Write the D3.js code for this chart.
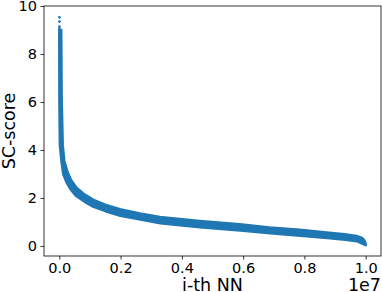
<!DOCTYPE html>
<html>
<head>
<meta charset="utf-8">
<script src="https://cdn.jsdelivr.net/npm/d3@7"></script>
<style>
  body { margin: 0; background: #fff; }
  svg { display: block; font-family: "DejaVu Sans", sans-serif; }
</style>
</head>
<body>
<svg id="chart" width="382" height="292"></svg>
<script>
// outer (upper/right) edge of the point cloud
var upperX = [0.006e7, 0.0075e7, 0.011e7, 0.016e7, 0.026e7, 0.038e7, 0.056e7, 0.079e7, 0.11e7, 0.149e7,
  0.198e7, 0.263e7, 0.328e7, 0.458e7, 0.588e7, 0.686e7, 0.784e7, 0.872e7, 0.931e7, 0.970e7, 0.988e7, 0.996e7, 1.0e7];
var upperY = [9.0, 6.1, 4.2, 3.55, 3.1, 2.75, 2.42, 2.17, 1.93, 1.72,
  1.53, 1.35, 1.2, 1.04, 0.9, 0.77, 0.67, 0.56, 0.48, 0.41, 0.33, 0.22, 0.08];

// inner (lower/left) edge
var lowerX = [0, 0.0005e7, 0.002e7, 0.0075e7, 0.013e7, 0.023e7, 0.036e7, 0.054e7, 0.083e7, 0.112e7,
  0.151e7, 0.199e7, 0.265e7, 0.33e7, 0.459e7, 0.591e7, 0.689e7, 0.787e7, 0.875e7, 0.934e7, 0.971e7, 0.987e7, 0.996e7, 1.0e7];
var lowerY = [9.0, 6.1, 4.2, 3.5, 3.0, 2.67, 2.38, 2.09, 1.84, 1.63,
  1.45, 1.26, 1.1, 0.95, 0.78, 0.64, 0.53, 0.43, 0.33, 0.26, 0.2, 0.11, 0.06, 0.03];

// the few loose points at the top of the spike
var topDotsX = [0.0003e7, 0.0003e7, 0.0003e7, 0.0004e7];
var topDotsY = [9.53, 9.35, 9.14, 9.05];

var xTicks = [0, 0.2e7, 0.4e7, 0.6e7, 0.8e7, 1.0e7];
var yTicks = [0, 2, 4, 6, 8, 10];

var color = '#1f77b4';
var margin = { top: 6, right: 1, bottom: 36, left: 44 };
var width = 382 - margin.left - margin.right;
var height = 292 - margin.top - margin.bottom;

var svg = d3.select('#chart');
var g = svg.append('g')
  .attr('transform', 'translate(' + margin.left + ',' + margin.top + ')');

var x = d3.scaleLinear().domain([-0.05e7, 1.05e7]).range([0, width]);
var y = d3.scaleLinear().domain([-0.42, 10]).range([height, 0]);

// cloud outline: outer edge forward, inner edge back
var pts = upperX.map(function (d, i) { return [d, upperY[i]]; });
for (var i = lowerX.length - 1; i >= 0; i--) pts.push([lowerX[i], lowerY[i]]);

var line = d3.line()
  .x(function (d) { return x(d[0]); })
  .y(function (d) { return y(d[1]); });

g.append('path')
  .datum(pts)
  .attr('d', function (d) { return line(d) + 'Z'; })
  .attr('fill', color)
  .attr('stroke', color)
  .attr('stroke-width', 2.6)
  .attr('stroke-linejoin', 'round');

g.selectAll('.dot')
  .data(topDotsY)
  .enter().append('circle')
  .attr('class', 'dot')
  .attr('cx', function (d, i) { return x(topDotsX[i]); })
  .attr('cy', function (d) { return y(d); })
  .attr('r', 1.4)
  .attr('fill', color);

// axes
var xAxis = g.append('g')
  .attr('transform', 'translate(0,' + height + ')')
  .call(d3.axisBottom(x).tickValues(xTicks).tickSize(3.5).tickPadding(3.5)
    .tickFormat(function (d) { return d3.format('.1f')(d / 1e7); }));

var yAxis = g.append('g')
  .call(d3.axisLeft(y).tickValues(yTicks).tickSize(3.5).tickPadding(3.5)
    .tickFormat(d3.format('d')));

[xAxis, yAxis].forEach(function (a) {
  a.select('.domain').remove();
  a.selectAll('.tick line').attr('stroke', '#000').attr('stroke-width', 0.8);
  a.selectAll('.tick text').attr('fill', '#000').style('font-size', '14.5px')
    .style('font-family', '"DejaVu Sans", sans-serif');
});

// frame
g.append('rect')
  .attr('width', width)
  .attr('height', height)
  .attr('fill', 'none')
  .attr('stroke', '#000')
  .attr('stroke-width', 0.8);

// labels
g.append('text')
  .attr('x', width / 2)
  .attr('y', height + 35)
  .attr('text-anchor', 'middle')
  .style('font-size', '17.5px')
  .text('i-th NN');

g.append('text')
  .attr('x', width)
  .attr('y', height + 35)
  .attr('text-anchor', 'end')
  .style('font-size', '17.5px')
  .text('1e7');

g.append('text')
  .attr('transform', 'rotate(-90)')
  .attr('x', -height / 2)
  .attr('y', -29)
  .attr('text-anchor', 'middle')
  .style('font-size', '17.5px')
  .text('SC-score');
</script>
</body>
</html>
